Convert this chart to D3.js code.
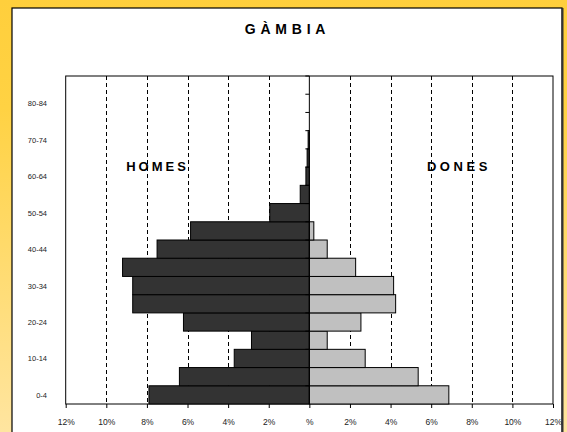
<!DOCTYPE html>
<html>
<head>
<meta charset="utf-8">
<script src="https://cdn.jsdelivr.net/npm/d3@7"></script>
<style>
  html, body { margin: 0; padding: 0; background: #fff; }
  svg { display: block; font-family: Arial, "Liberation Sans", sans-serif; }
</style>
</head>
<body>
<div id="chart"></div>
<script>
// Age groups, bottom to top
const ageGroups = ["0-4", "5-9", "10-14", "15-19", "20-24", "25-29", "30-34", "35-39", "40-44",
                   "45-49", "50-54", "55-59", "60-64", "65-69", "70-74", "75-79", "80-84", "85+"];
// Share of population (%)
const homes = [7.9, 6.4, 3.7, 2.85, 6.2, 8.7, 8.7, 9.2, 7.5, 5.85, 1.95, 0.45, 0.17, 0.11, 0.06, 0, 0, 0];
const dones = [6.87, 5.36, 2.75, 0.88, 2.54, 4.25, 4.15, 2.28, 0.88, 0.22, 0, 0, 0, 0, 0, 0, 0, 0];
const xTicks = [-12, -10, -8, -6, -4, -2, 0, 2, 4, 6, 8, 10, 12];
const gridTicks = [-10, -8, -6, -4, -2, 2, 4, 6, 8, 10];

const W = 567, H = 432;
const plot = { left: 65.7, right: 553, top: 76, bottom: 404 };

const svg = d3.select('#chart').append('svg')
    .attr('width', W)
    .attr('height', H);

// background gradient
const defs = svg.append('defs');
const grad = defs.append('linearGradient')
    .attr('id', 'bg')
    .attr('x1', 0).attr('y1', 0).attr('x2', 0).attr('y2', 1);
grad.append('stop').attr('offset', '0%').attr('stop-color', '#FFCF3C');
grad.append('stop').attr('offset', '25%').attr('stop-color', '#FFD243');
grad.append('stop').attr('offset', '100%').attr('stop-color', '#FFE5A0');

defs.append('clipPath').attr('id', 'panelClip')
    .append('rect').attr('x', 12).attr('y', 8).attr('width', 550).attr('height', 430);

svg.append('rect')
    .attr('width', W).attr('height', H)
    .attr('fill', 'url(#bg)');

// white panel with border + dark right edge
svg.append('rect')
    .attr('x', 12).attr('y', 8)
    .attr('width', 550).attr('height', 440)
    .attr('fill', '#fff')
    .attr('stroke', '#000')
    .attr('stroke-width', 1.2);
svg.append('line')
    .attr('x1', 562.5).attr('x2', 562.5)
    .attr('y1', 8).attr('y2', H)
    .attr('stroke', '#333')
    .attr('stroke-width', 2);

const g = svg.append('g').attr('clip-path', 'url(#panelClip)');

// Scales
const x = d3.scaleLinear().domain([-12, 12]).range([plot.left, plot.right]);
const y = d3.scaleBand().domain(ageGroups).range([plot.bottom, plot.top]).padding(0);

// Title
g.append('text')
    .attr('x', 287.5).attr('y', 34)
    .attr('text-anchor', 'middle')
    .style('font-size', '14px')
    .style('font-weight', 'bold')
    .style('letter-spacing', '4.8px')
    .text('GÀMBIA');

// Dashed grid lines
g.selectAll('.grid')
    .data(gridTicks)
    .enter()
    .append('line')
    .attr('class', 'grid')
    .attr('x1', d => Math.round(x(d)) + 0.5)
    .attr('x2', d => Math.round(x(d)) + 0.5)
    .attr('y1', plot.top)
    .attr('y2', plot.bottom)
    .attr('stroke', '#000')
    .attr('stroke-width', 1)
    .attr('stroke-dasharray', '4,3');

// Plot frame
g.append('rect')
    .attr('x', plot.left).attr('y', plot.top)
    .attr('width', plot.right - plot.left)
    .attr('height', plot.bottom - plot.top)
    .attr('fill', 'none')
    .attr('stroke', '#000')
    .attr('stroke-width', 1);

// Bars - homes (left)
g.selectAll('.bar-h')
    .data(ageGroups.map((a, i) => ({ age: a, v: homes[i] })).filter(d => d.v > 0))
    .enter()
    .append('rect')
    .attr('class', 'bar-h')
    .attr('x', d => x(-d.v))
    .attr('y', d => y(d.age))
    .attr('width', d => x(0) - x(-d.v))
    .attr('height', y.bandwidth())
    .attr('fill', '#333333')
    .attr('stroke', '#000')
    .attr('stroke-width', 1);

// Bars - dones (right)
g.selectAll('.bar-d')
    .data(ageGroups.map((a, i) => ({ age: a, v: dones[i] })).filter(d => d.v > 0))
    .enter()
    .append('rect')
    .attr('class', 'bar-d')
    .attr('x', x(0))
    .attr('y', d => y(d.age))
    .attr('width', d => x(d.v) - x(0))
    .attr('height', y.bandwidth())
    .attr('fill', '#C0C0C0')
    .attr('stroke', '#000')
    .attr('stroke-width', 1);

// Zero axis with category tick marks at band edges
g.append('line')
    .attr('x1', x(0)).attr('x2', x(0))
    .attr('y1', plot.top).attr('y2', plot.bottom)
    .attr('stroke', '#000')
    .attr('stroke-width', 1);
g.selectAll('.ctick')
    .data(ageGroups)
    .enter()
    .append('line')
    .attr('class', 'ctick')
    .attr('x1', x(0) - 4).attr('x2', x(0))
    .attr('y1', d => y(d))
    .attr('y2', d => y(d))
    .attr('stroke', '#000')
    .attr('stroke-width', 1);

// Category labels (every other group)
g.selectAll('.clabel')
    .data(ageGroups.filter((d, i) => i % 2 === 0))
    .enter()
    .append('text')
    .attr('class', 'clabel')
    .attr('x', 47)
    .attr('y', d => y(d) + y.bandwidth() / 2 + 3)
    .attr('text-anchor', 'end')
    .style('font-size', '7.5px')
    .style('fill', '#222')
    .text(d => d);

// X axis
const xAxis = d3.axisBottom(x)
    .tickValues(xTicks)
    .tickSize(4)
    .tickPadding(11)
    .tickFormat(d => d === 0 ? '%' : Math.abs(d) + '%');

const ax = g.append('g')
    .attr('transform', `translate(0,${plot.bottom})`)
    .call(xAxis);
ax.select('.domain').remove();
ax.selectAll('.tick line').attr('stroke', '#000');
ax.selectAll('.tick text')
    .style('font-size', '8.5px')
    .style('font-family', 'Arial, "Liberation Sans", sans-serif')
    .attr('fill', '#222');

// Side labels
g.append('text')
    .attr('x', 157.5).attr('y', 171)
    .attr('text-anchor', 'middle')
    .style('font-size', '13px')
    .style('font-weight', 'bold')
    .style('letter-spacing', '3px')
    .text('HOMES');
g.append('text')
    .attr('x', 459).attr('y', 171)
    .attr('text-anchor', 'middle')
    .style('font-size', '13px')
    .style('font-weight', 'bold')
    .style('letter-spacing', '3.6px')
    .text('DONES');
</script>
</body>
</html>
